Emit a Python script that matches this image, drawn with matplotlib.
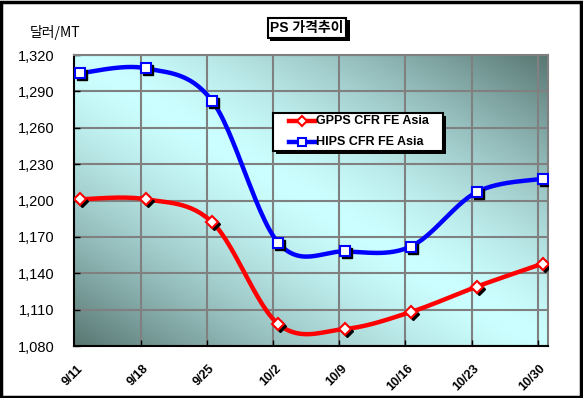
import numpy as np
import matplotlib.pyplot as plt
import matplotlib.transforms as mtransforms
from matplotlib.patches import Rectangle
from matplotlib.lines import Line2D

plt.rcParams['font.family'] = ['Liberation Sans', 'Noto Sans CJK KR', 'DejaVu Sans']

dates = ['9/11', '9/18', '9/25', '10/2', '10/9', '10/16', '10/23', '10/30']
gpps = [1201, 1201, 1182, 1098, 1094, 1108, 1129, 1148]
hips = [1305, 1309, 1282, 1165, 1158, 1162, 1207, 1218]
yticks = [1080, 1110, 1140, 1170, 1200, 1230, 1260, 1290, 1320]
names = ['GPPS CFR FE Asia', 'HIPS CFR FE Asia']

### excel-like smoothing (bezier through points, done in pixel-ish units)
def smooth(y, sx=66.1, sy=1.2125, n=30):
    p = np.column_stack([np.arange(len(y)) * sx, np.array(y, float) * sy])
    pp = np.vstack([p[0], p, p[-1]])
    out = []
    t = np.linspace(0, 1, n)[:, None]
    for i in range(len(p) - 1):
        p0, p3 = pp[i + 1], pp[i + 2]
        c1 = p0 + (pp[i + 2] - pp[i]) / 6
        c2 = p3 - (pp[i + 3] - pp[i + 1]) / 6
        seg = (1 - t) ** 3 * p0 + 3 * (1 - t) ** 2 * t * c1 + 3 * (1 - t) * t ** 2 * c2 + t ** 3 * p3
        out.append(seg)
    out = np.vstack(out)
    return out[:, 0] / sx, out[:, 1] / sy

W, H = 583, 398
def fx(px): return px / W
def fy(py): return 1 - py / H

fig = plt.figure(figsize=(5.83, 3.98), dpi=100)
ax = fig.add_axes([fx(74), fy(346), 474 / W, 291 / H])

# gradient background: light along top-left/bottom-right diagonal, dark in other corners
u, v = np.meshgrid(np.linspace(0, 1, 300), np.linspace(0, 1, 200))
d = np.clip(np.abs(u + v - 1), 0, 1) ** 1.4
light = np.array([204, 255, 255]) / 255
dark = np.array([88, 118, 114]) / 255
img = light[None, None, :] * (1 - d[..., None]) + dark[None, None, :] * d[..., None]
ax.imshow(img, extent=[0, 1, 0, 1], transform=ax.transAxes, origin='lower',
          aspect='auto', zorder=0)

x = np.arange(len(dates))
shadow = mtransforms.offset_copy(ax.transData, fig=fig, x=2, y=-2, units='dots')

styles = [(gpps, '#ff0000', 'D', 6.5), (hips, '#0000ff', 's', 7.5)]
for vals, col, mk, ms in styles:
    sx_, sy_ = smooth(vals)
    ax.plot(sx_, sy_, color=col, lw=3.2, zorder=3, solid_capstyle='butt')
    ax.plot(x, vals, ls='none', marker=mk, ms=ms, color='black', zorder=4, transform=shadow)
    ax.plot(x, vals, ls='none', marker=mk, ms=ms, mfc='white', mec=col, mew=1.5, zorder=5)

ax.set_xlim(-0.09, 7.076)
ax.set_ylim(1080, 1320)
ax.set_yticks(yticks)
ax.set_yticklabels(['{:,}'.format(t) for t in yticks], fontsize=10.5)
ax.set_xticks(x)
ax.set_xticklabels(dates, rotation=45, ha='right', va='top', fontsize=9, fontweight='bold')
ax.set_xticks(x[1:] - 0.08, minor=True)
ax.tick_params(axis='x', which='major', length=0, pad=12)
ax.tick_params(axis='x', which='minor', length=4, width=1, direction='in', color='black')
ax.tick_params(axis='y', length=4, width=1, direction='in', pad=14)
for lab in ax.get_xticklabels():
    lab.set_transform(lab.get_transform() + mtransforms.ScaledTranslation(5 / 100, 0, fig.dpi_scale_trans))

ax.grid(axis='y', color='#808080', lw=1.5, zorder=1)
ax.grid(axis='x', which='minor', color='#808080', lw=1.5, zorder=1)
for s in ['top', 'right']:
    ax.spines[s].set_color('#808080')
    ax.spines[s].set_linewidth(1.5)
for s in ['left', 'bottom']:
    ax.spines[s].set_color('black')
    ax.spines[s].set_linewidth(1.5)

# legend, drawn by hand in figure pixels
fig.patches.append(Rectangle((fx(276), fy(154)), 170 / W, 38 / H, transform=fig.transFigure,
                             fc='black', ec='none', zorder=6))
fig.patches.append(Rectangle((fx(273), fy(151)), 170 / W, 38 / H, transform=fig.transFigure,
                             fc='white', ec='black', lw=1.5, zorder=7))
for i, ((vals, col, mk, ms), name) in enumerate(zip(styles, names)):
    yy = fy(121 + 21 * i)
    fig.add_artist(Line2D([fx(289), fx(315)], [yy, yy], color=col, lw=3.2,
                          transform=fig.transFigure, zorder=8))
    fig.add_artist(Line2D([fx(302)], [yy], marker=mk, ms=ms - 1.5, mfc='white', mec=col,
                          mew=1.5, transform=fig.transFigure, zorder=9))
    fig.text(fx(316), yy, name, ha='left', va='center', fontsize=9, fontweight='bold',
             zorder=9)

# title box
fig.text(fx(307), fy(28), 'PS 가격추이', ha='center', va='center', fontsize=10,
         fontweight='bold', family=['Liberation Sans', 'Noto Sans CJK KR'],
         bbox=dict(boxstyle='square,pad=0.2', fc='white', ec='black', lw=1.5))
fig.patches.append(Rectangle((fx(270), fy(41)), 80 / W, 21 / H,
                             transform=fig.transFigure, fc='black', ec='none', zorder=-1))

fig.text(fx(30), fy(33), '달러/MT', ha='left', va='center', fontsize=10,
         family=['Noto Sans CJK KR', 'Liberation Sans'])

fig.patches.append(Rectangle((0.002, 0.003), 0.994, 0.993, transform=fig.transFigure,
                             fill=False, ec='black', lw=2.5))

fig.savefig('out.png', dpi=100)
